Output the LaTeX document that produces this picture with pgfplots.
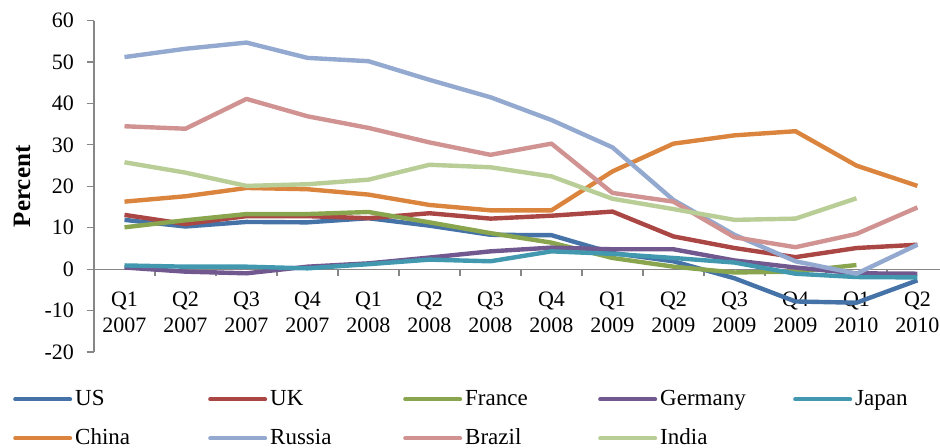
\documentclass[border=0pt]{standalone}
\usepackage{pgfplots}
\pgfplotsset{compat=1.18}
\usepackage{fontspec}
\setmainfont{Liberation Serif}
\definecolor{cUS}{HTML}{4572A7}
\definecolor{cUK}{HTML}{AA4643}
\definecolor{cFR}{HTML}{89A54E}
\definecolor{cDE}{HTML}{71588F}
\definecolor{cJP}{HTML}{4198AF}
\definecolor{cCN}{HTML}{DB843D}
\definecolor{cRU}{HTML}{93A9CF}
\definecolor{cBR}{HTML}{D19392}
\definecolor{cIN}{HTML}{B9CD96}
\definecolor{axgray}{HTML}{868686}
\begin{document}
\begin{tikzpicture}
\begin{axis}[
  at={(0,0)}, anchor=south west,
  scale only axis, width=423pt, height=165.7pt,
  xmin=-0.5, xmax=13.37, ymin=-20, ymax=60,
  axis x line=middle, axis y line=left,
  axis line style={axgray, line width=0.6pt, -},
  ytick={-20,-10,...,60},
  xtick={0,...,13},
  xticklabels={{Q1\\2007},{Q2\\2007},{Q3\\2007},{Q4\\2007},{Q1\\2008},{Q2\\2008},{Q3\\2008},{Q4\\2008},{Q1\\2009},{Q2\\2009},{Q3\\2009},{Q4\\2009},{Q1\\2010},{Q2\\2010}},
  minor xtick={-0.5,0.5,...,12.5},
  x tick style={draw=none},
  minor x tick style={draw=axgray, line width=0.6pt},
  minor tick length=3.5pt,
  y tick style={axgray, line width=0.6pt},
  major tick length=3.5pt,
  tick align=outside,
  xticklabel style={align=center, font=\fontsize{11}{13}\selectfont, anchor=north, yshift=-4.5pt},
  yticklabel style={font=\fontsize{11}{13}\selectfont, anchor=east, xshift=-3pt},
  /pgf/number format/assume math mode=true,
  ylabel={Percent},
  every axis y label/.style={at={(axis description cs:0,0.5)}, rotate=90, anchor=center, yshift=36pt, font=\fontsize{12.5}{14}\selectfont\bfseries},
  clip=false,
  every axis plot/.append style={line width=2.2pt, line join=round},
  legend style={at={(0,0)}, anchor=north west, xshift=-40.6pt, yshift=-18pt,
    draw=none, fill=none, inner sep=0pt, column sep=0pt, row sep=8.5pt,
    font=\fontsize{11.5}{13}\selectfont,
    nodes={inner sep=0pt, text height=8.5pt, text depth=2.5pt}},
  legend columns=5,
  /tikz/every odd column/.append style={column sep=1.5pt},
  legend image code/.code={\draw[#1, line width=2pt, line cap=round] (1pt,0pt) -- (28.5pt,0pt);},
]
\addplot[cUS] coordinates {(0,11.9)(1,10.3)(2,11.4)(3,11.3)(4,12.3)(5,10.5)(6,8.3)(7,8.2)(8,3.9)(9,1.9)(10,-2.2)(11,-7.8)(12,-8.1)(13,-2.7)};
\addlegendentry{\makebox[66.5pt][l]{US}}
\addplot[cUK] coordinates {(0,13.1)(1,10.9)(2,12.8)(3,12.8)(4,12.3)(5,13.5)(6,12.2)(7,12.9)(8,13.9)(9,7.9)(10,5.1)(11,2.9)(12,5.1)(13,5.9)};
\addlegendentry{\makebox[66.5pt][l]{UK}}
\addplot[cFR] coordinates {(0,10.1)(1,11.8)(2,13.3)(3,13.3)(4,13.8)(5,11.3)(6,8.7)(7,6.4)(8,2.7)(9,0.6)(10,-0.8)(11,-0.6)(12,1.0)};
\addlegendentry{\makebox[66.5pt][l]{France}}
\addplot[cDE] coordinates {(0,0.4)(1,-0.6)(2,-1.0)(3,0.6)(4,1.4)(5,2.8)(6,4.3)(7,5.2)(8,4.8)(9,4.8)(10,2.1)(11,0.4)(12,-1.0)(13,-1.1)};
\addlegendentry{\makebox[66.5pt][l]{Germany}}
\addplot[cJP] coordinates {(0,0.9)(1,0.6)(2,0.6)(3,0.2)(4,1.2)(5,2.3)(6,1.9)(7,4.3)(8,3.7)(9,2.7)(10,1.6)(11,-1.1)(12,-1.9)(13,-2.0)};
\addlegendentry{\makebox[66.5pt][l]{Japan}}
\addplot[cCN] coordinates {(0,16.3)(1,17.6)(2,19.6)(3,19.3)(4,18.0)(5,15.5)(6,14.2)(7,14.2)(8,23.6)(9,30.3)(10,32.3)(11,33.3)(12,25.0)(13,20.1)};
\addlegendentry{\makebox[66.5pt][l]{China}}
\addplot[cRU] coordinates {(0,51.2)(1,53.2)(2,54.7)(3,51.0)(4,50.2)(5,45.7)(6,41.5)(7,36.0)(8,29.4)(9,16.7)(10,8.3)(11,1.9)(12,-1.1)(13,5.9)};
\addlegendentry{\makebox[66.5pt][l]{Russia}}
\addplot[cBR] coordinates {(0,34.5)(1,33.9)(2,41.1)(3,36.9)(4,34.1)(5,30.6)(6,27.6)(7,30.3)(8,18.4)(9,16.3)(10,7.7)(11,5.3)(12,8.5)(13,14.9)};
\addlegendentry{\makebox[66.5pt][l]{Brazil}}
\addplot[cIN] coordinates {(0,25.8)(1,23.3)(2,20.1)(3,20.5)(4,21.6)(5,25.2)(6,24.6)(7,22.4)(8,17.0)(9,14.5)(10,11.9)(11,12.2)(12,17.1)};
\addlegendentry{\makebox[66.5pt][l]{India}}
\end{axis}
\pgfresetboundingbox
\path[use as bounding box] (-47pt,-47.5pt) rectangle (423pt,176pt);
\end{tikzpicture}
\end{document}
